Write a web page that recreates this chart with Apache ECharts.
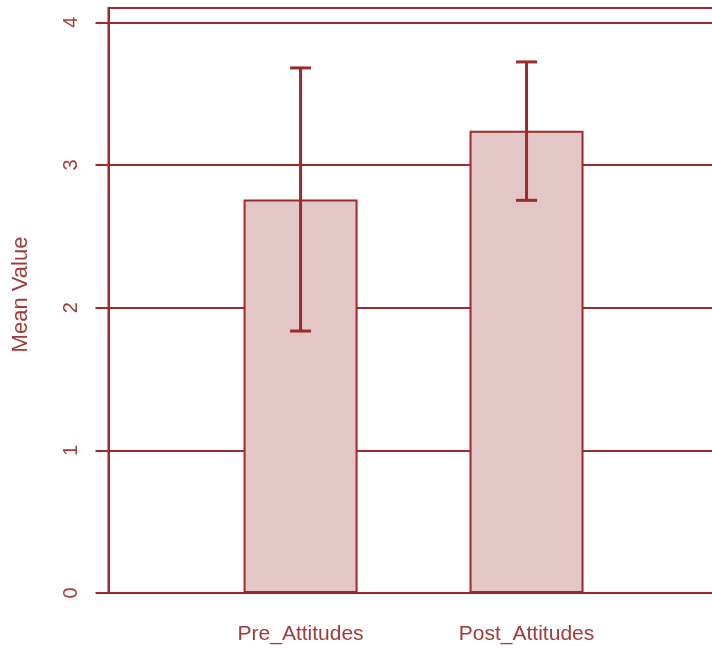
<!DOCTYPE html>
<html>
<head>
<meta charset="utf-8">
<script src="https://cdn.jsdelivr.net/npm/echarts@6/dist/echarts.min.js"></script>
<style>html,body{margin:0;padding:0;background:#fff}#c{width:712px;height:649px}</style>
</head>
<body>
<div id="c"></div>
<script>
// Data
var categories = ['Pre_Attitudes', 'Post_Attitudes'];
var catPositions = [1, 3];
var means = [2.758, 3.24];
var errLow = [1.836, 2.752];
var errHigh = [3.68, 3.722];
var yTicks = [0, 1, 2, 3, 4];

var dark = '#9b2a2a';
var textCol = '#a33a3a';
var fill = '#e3c6c6';
var font = '"Liberation Sans", Arial, sans-serif';

var barData = catPositions.map(function (x, i) { return [x, means[i]]; });
var errData = catPositions.map(function (x, i) { return [x, errLow[i], errHigh[i]]; });

var chart = echarts.init(document.getElementById('c'));
chart.setOption({
  animation: false,
  backgroundColor: '#fff',
  grid: {
    left: 108.5, top: 8, bottom: 56, right: -10,
    outerBoundsMode: 'none', containLabel: false,
    show: true, borderColor: dark, borderWidth: 2, backgroundColor: 'transparent'
  },
  xAxis: {
    type: 'value', min: -0.7, max: 4.73,
    axisLine: { show: true, onZero: false, lineStyle: { color: dark, width: 2 } },
    axisTick: { show: false },
    splitLine: { show: false },
    axisLabel: {
      customValues: catPositions,
      formatter: function (v) { var i = catPositions.indexOf(v); return i >= 0 ? categories[i] : ''; },
      color: textCol, fontFamily: font, fontSize: 21, margin: 31
    }
  },
  yAxis: {
    type: 'value', min: 0, max: 4.1,
    name: 'Mean Value', nameLocation: 'middle', nameGap: 77, nameRotate: 90,
    nameTextStyle: { color: textCol, fontFamily: font, fontSize: 22, padding: [0, 0, 0, 12] },
    axisLine: { show: true, onZero: false, lineStyle: { color: dark, width: 2 } },
    axisTick: { show: true, customValues: yTicks, length: 13, lineStyle: { color: dark, width: 2 } },
    axisLabel: {
      customValues: yTicks, rotate: 90, color: textCol, fontFamily: font, fontSize: 20, margin: 27
    },
    splitLine: { show: true, lineStyle: { color: dark, width: 2 } }
  },
  series: [
    {
      type: 'bar', data: barData, barWidth: 114,
      itemStyle: { color: fill, borderColor: dark, borderWidth: 2 },
      z: 3
    },
    {
      type: 'custom', data: errData, z: 5,
      renderItem: function (params, api) {
        var x = api.value(0);
        var lo = api.coord([x, api.value(1)]);
        var hi = api.coord([x, api.value(2)]);
        var cap = 10.5;
        var st = { stroke: dark, lineWidth: 3 };
        return {
          type: 'group',
          children: [
            { type: 'line', shape: { x1: lo[0], y1: lo[1], x2: hi[0], y2: hi[1] }, style: st },
            { type: 'line', shape: { x1: lo[0] - cap, y1: lo[1], x2: lo[0] + cap, y2: lo[1] }, style: st },
            { type: 'line', shape: { x1: hi[0] - cap, y1: hi[1], x2: hi[0] + cap, y2: hi[1] }, style: st }
          ]
        };
      }
    }
  ]
});
</script>
</body>
</html>
